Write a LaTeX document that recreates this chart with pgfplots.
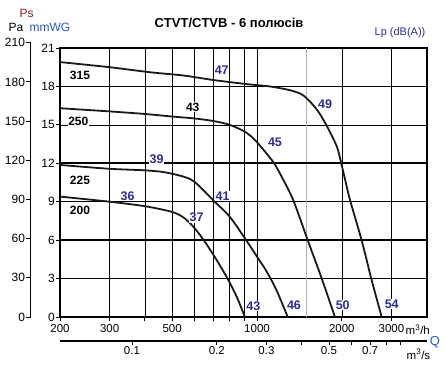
\documentclass[border=0pt]{standalone}
\usepackage{fontspec}
\setmainfont{Liberation Sans}
\usepackage{pgfplots}
\pgfplotsset{compat=1.18}
\definecolor{lblue}{RGB}{45,45,145}
\definecolor{mblue}{RGB}{40,90,185}
\definecolor{dred}{RGB}{135,30,30}
\definecolor{crv}{RGB}{25,25,25}

\pgfplotstableread{
Q mm
200 19.9
300 19.5
420 19.1
550 18.85
700 18.5
920 18.18
1110 18.0
1310 17.7
1460 17.3
1630 16.2
1770 14.9
1920 13.3
1990 12.0
2060 10.6
2140 9.1
2350 6.0
2550 2.9
2770 0
}\cA
\pgfplotstableread{
Q mm
200 16.3
300 16.05
400 15.85
500 15.65
600 15.5
700 15.3
800 15.0
900 14.5
970 13.95
1050 13.1
1150 12.0
1240 10.7
1346 9.1
1513 6.0
1697 3.0
1890 0
}\cB
\pgfplotstableread{
Q mm
200 11.87
300 11.57
400 11.45
470 11.3
550 10.95
600 10.55
680 9.4
700 9.1
800 7.83
906 6.14
1000 4.71
1082 3.55
1175 2.05
1285 0
}\cC
\pgfplotstableread{
Q mm
200 9.4
300 9.0
400 8.65
500 8.2
550 7.75
594 7.05
645 6.05
719 4.45
791 2.89
847 1.58
906 0
}\cD

\begin{document}
\begin{tikzpicture}
\path[use as bounding box] (0,0) rectangle (445pt,368pt);

% Pa axis
\begin{axis}[at={(30.7pt,51pt)}, anchor=south west, scale only axis,
  width=5pt, height=274.3pt, xmin=0, xmax=1, ymin=0, ymax=210,
  hide x axis, axis y line*=left,
  ytick={0,30,60,90,120,150,180,210},
  yticklabels={0,30,60,90,120,150,180,210},
  tick align=outside, major tick length=4.5pt,
  axis line style={line width=1.6pt},
  tick style={black, line width=0.9pt},
  yticklabel style={font=\fontsize{12}{12}\selectfont, inner xsep=1pt}]
\end{axis}

% m3/s axis
\begin{axis}[at={(60pt,27pt)}, anchor=south west, scale only axis,
  width=367pt, height=5pt, xmode=log, xmin=0.055556, xmax=1.11389,
  ymin=0, ymax=1, hide y axis, axis x line*=bottom,
  xtick={0.1,0.2,0.3,0.5,0.7}, xticklabels={0.1,0.2,0.3,0.5,0.7},
  minor xtick={0.4,0.6,0.8,0.9},
  tick align=outside, major tick length=3.5pt, minor tick length=3.5pt,
  axis line style={line width=1.6pt},
  tick style={black, line width=0.9pt},
  xticklabel style={font=\fontsize{11.5}{11.5}\selectfont, inner ysep=2pt}]
\end{axis}

% main axis
\begin{axis}[at={(60pt,51pt)}, anchor=south west, scale only axis,
  width=367pt, height=269pt,
  xmode=log, xmin=200, xmax=4010, ymin=0, ymax=21,
  xtick={200,300,500,1000,2000,3000},
  xticklabels={200,300,500,1000,2000,3000},
  minor xtick={400,600,700,800,900},
  extra x ticks={1500}, extra x tick labels={},
  extra x tick style={grid=major, major grid style={black!30, line width=1pt}, major tick length=0pt},
  ytick={0,3,6,9,12,15,18,21},
  yticklabels={0,3,6,9,12,15,18,21},
  extra y ticks={6,12,18}, extra y tick labels={},
  extra y tick style={grid=major, major grid style={black, line width=1.7pt}, major tick length=0pt},
  grid=both, major grid style={black, line width=0.7pt},
  minor grid style={black, line width=0.7pt},
  axis line style={line width=1.6pt},
  tick align=outside, major tick length=4pt, minor tick length=4pt,
  tick style={black, line width=0.9pt},
  xtick pos=bottom, ytick pos=left,
  xticklabel style={font=\fontsize{11.5}{11.5}\selectfont},
  yticklabel style={font=\fontsize{12}{12}\selectfont, inner xsep=1pt}]
\addplot[crv, line width=1.8pt, smooth, mark=none] table[x=Q,y=mm]{\cA};
\addplot[crv, line width=1.8pt, smooth, mark=none] table[x=Q,y=mm]{\cB};
\addplot[crv, line width=1.8pt, smooth, mark=none] table[x=Q,y=mm]{\cC};
\addplot[crv, line width=1.8pt, smooth, mark=none] table[x=Q,y=mm]{\cD};
\end{axis}

% curve labels
\begin{scope}[every node/.style={fill=white, inner sep=0.6pt}]
\node[font=\bfseries\fontsize{12}{12}\selectfont] at (80pt,293pt) {315};
\node[font=\bfseries\fontsize{12}{12}\selectfont] at (78.3pt,247pt) {250};
\node[font=\bfseries\fontsize{12}{12}\selectfont] at (80pt,188pt) {225};
\node[font=\bfseries\fontsize{12}{12}\selectfont] at (80pt,158pt) {200};
\node[font=\bfseries\fontsize{12}{12}\selectfont] at (192.7pt,260.7pt) {43};
\node[text=lblue,font=\bfseries\fontsize{12.5}{12}\selectfont] at (221.7pt,298pt) {47};
\node[text=lblue,font=\bfseries\fontsize{12.5}{12}\selectfont] at (325pt,263.7pt) {49};
\node[text=lblue,font=\bfseries\fontsize{12.5}{12}\selectfont] at (275pt,225.7pt) {45};
\node[text=lblue,font=\bfseries\fontsize{12.5}{12}\selectfont] at (156.7pt,209pt) {39};
\node[text=lblue,font=\bfseries\fontsize{12.5}{12}\selectfont] at (222.7pt,172pt) {41};
\node[text=lblue,font=\bfseries\fontsize{12.5}{12}\selectfont] at (127.7pt,172pt) {36};
\node[text=lblue,font=\bfseries\fontsize{12.5}{12}\selectfont] at (196.7pt,150.3pt) {37};
\node[text=lblue,font=\bfseries\fontsize{12.5}{12}\selectfont] at (253.3pt,62pt) {43};
\node[text=lblue,font=\bfseries\fontsize{12.5}{12}\selectfont] at (294pt,63pt) {46};
\node[text=lblue,font=\bfseries\fontsize{12.5}{12}\selectfont] at (342.7pt,63pt) {50};
\node[text=lblue,font=\bfseries\fontsize{12.5}{12}\selectfont] at (391.7pt,64pt) {54};
\end{scope}

% titles and units
\node[font=\bfseries\fontsize{13}{14}\selectfont] at (229pt,345pt) {CTVT/CTVB - 6 полюсів};
\node[text=lblue, font=\fontsize{11}{12}\selectfont] at (400pt,335pt) {Lp (dB(A))};
\node[text=dred, font=\fontsize{12}{12}\selectfont] at (26.7pt,354.7pt) {Ps};
\node[font=\fontsize{12}{12}\selectfont] at (16pt,340.3pt) {Pa};
\node[text=mblue, font=\fontsize{12}{12}\selectfont] at (50pt,340.3pt) {mmWG};
\node[anchor=base west, inner sep=0pt, font=\fontsize{11.5}{11.5}\selectfont] at (405.5pt,33.5pt) {m\textsuperscript{3}/h};
\node[anchor=base west, inner sep=0pt, font=\fontsize{11.5}{11.5}\selectfont] at (406.5pt,9pt) {m\textsuperscript{3}/s};
\node[text=mblue, font=\fontsize{13}{13}\selectfont] at (435pt,26pt) {Q};
\end{tikzpicture}
\end{document}
